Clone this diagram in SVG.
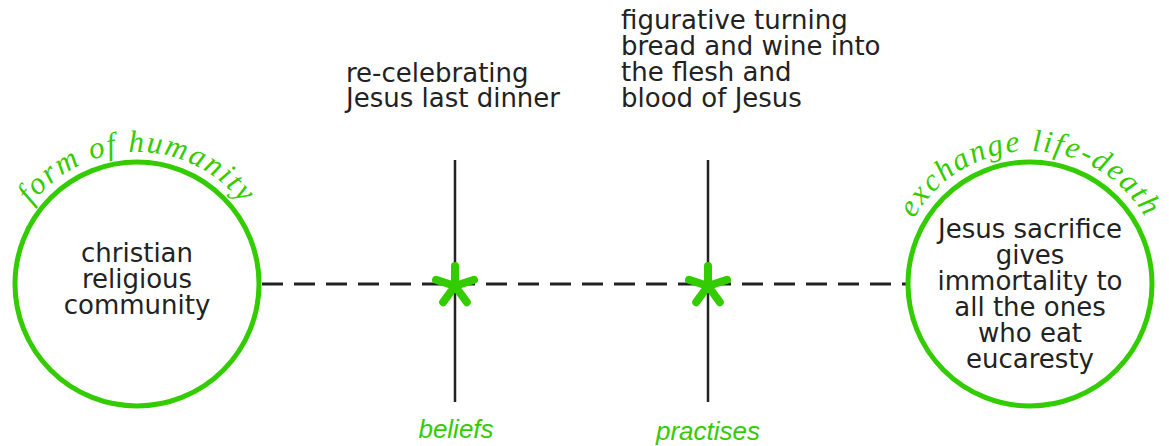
<svg xmlns="http://www.w3.org/2000/svg" width="1169" height="446" viewBox="0 0 1169 446">
<style>
.circ{fill:#fff;stroke:#33cc00;stroke-width:5}
.txt{font-family:"DejaVu Sans",Verdana,sans-serif;font-size:26px;fill:#222}
.arc{font-family:"Liberation Serif","Times New Roman",serif;font-style:italic;font-size:31px;fill:#33cc00;letter-spacing:2px}
.lab{font-family:"Liberation Sans",Arial,sans-serif;font-style:italic;font-size:26px;fill:#33cc00;text-anchor:middle}
.vline{stroke:#222;stroke-width:2.5}
.star{stroke:#33cc00;stroke-width:8;stroke-linecap:round;fill:none}
</style>
<defs>
<path id="arcL" d="M 5,284 A 132 132 0 0 1 269,284"/>
<path id="arcR" d="M 897,284 A 133 133 0 0 1 1163,284"/>
<path id="ast" d="M0,0 L0,-20 M0,0 L19,-6.2 M0,0 L11.8,16.2 M0,0 L-11.8,16.2 M0,0 L-19,-6.2"/>
</defs>
<g id="connectors">
<line x1="262" y1="284" x2="906" y2="284" stroke="#222" stroke-width="3" stroke-dasharray="21 11"/>
<line class="vline" x1="455" y1="160" x2="455" y2="402"/>
<line class="vline" x1="708" y1="160" x2="708" y2="402"/>
</g>
<g id="node-left">
<circle class="circ" cx="137" cy="284" r="122"/>
<text class="arc"><textPath href="#arcL" startOffset="50%" text-anchor="middle">form of humanity</textPath></text>
<text class="txt" text-anchor="middle"><tspan x="137" y="262">christian</tspan><tspan x="137" y="288">religious</tspan><tspan x="137" y="314">community</tspan></text>
</g>
<g id="node-right">
<circle class="circ" cx="1030" cy="284" r="122"/>
<text class="arc"><textPath href="#arcR" startOffset="50%" text-anchor="middle">exchange life-death</textPath></text>
<text class="txt" text-anchor="middle"><tspan x="1030" y="238">Jesus sacrifice</tspan><tspan x="1030" y="264">gives</tspan><tspan x="1030" y="290">immortality to</tspan><tspan x="1030" y="316">all the ones</tspan><tspan x="1030" y="342">who eat</tspan><tspan x="1030" y="368">eucaresty</tspan></text>
</g>
<g id="node-beliefs">
<use href="#ast" class="star" x="455" y="286"/>
<text class="txt"><tspan x="346" y="82">re-celebrating</tspan><tspan x="346" y="107">Jesus last dinner</tspan></text>
<text class="lab" x="456" y="438">beliefs</text>
</g>
<g id="node-practises">
<use href="#ast" class="star" x="708" y="286"/>
<text class="txt"><tspan x="621" y="29">figurative turning</tspan><tspan x="621" y="55">bread and wine into</tspan><tspan x="621" y="81">the flesh and</tspan><tspan x="621" y="107">blood of Jesus</tspan></text>
<text class="lab" x="708" y="440">practises</text>
</g>
</svg>
